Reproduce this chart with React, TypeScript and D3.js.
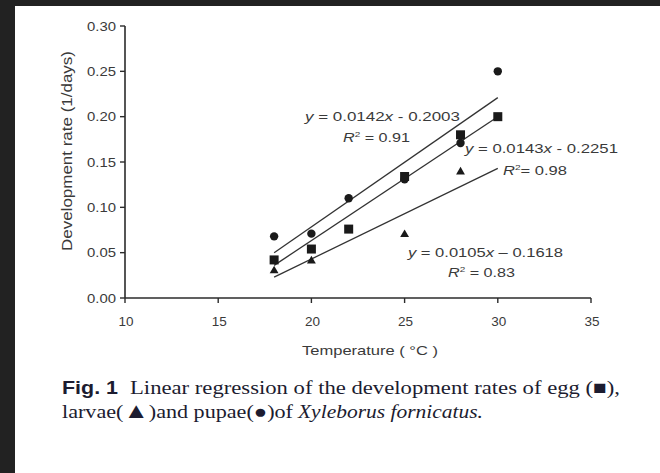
import React from "react";
import * as d3 from "d3";

// ---- data ----
const eggTemps = [18, 20, 22, 25, 28, 30];
const eggRates = [0.042, 0.054, 0.076, 0.134, 0.18, 0.2];
const larvaeTemps = [18, 20, 25, 28];
const larvaeRates = [0.03, 0.041, 0.07, 0.139];
const pupaeTemps = [18, 20, 22, 25, 28, 30];
const pupaeRates = [0.068, 0.071, 0.11, 0.131, 0.171, 0.25];

const fitTemps = [18, 30];
const pupaeFit = [0.05, 0.221];
const eggFit = [0.036, 0.2];
const larvaeFit = [0.023, 0.143];

const xTicks = [10, 15, 20, 25, 30, 35];
const yTicks = [0, 0.05, 0.1, 0.15, 0.2, 0.25, 0.3];

const eqSlopes = ["0.0142", "0.0143", "0.0105"];
const eqIntercepts = ["- 0.2003", "- 0.2251", "\u2013 0.1618"];
const eqR2 = ["0.91", "0.98", "0.83"];

const xTitle = "Temperature ( \u00B0C )";
const yTitle = "Development rate (1/days)";

// ---- layout ----
const W = 660;
const H = 473;
const eqPos = [
  { x: 305, y: 121, w: 155, rx: 343, ry: 142, rw: 67, req: " = " },
  { x: 465, y: 153, w: 153, rx: 503, ry: 175, rw: 64, req: "= " },
  { x: 408, y: 257, w: 155, rx: 448, ry: 277, rw: 67, req: " = " },
];

const x = d3.scaleLinear().domain([10, 35]).range([125, 591]);
const y = d3.scaleLinear().domain([0, 0.3]).range([298, 26]);

const ink = "#2b2b2b";
const txt = "#3a3a3a";
const sans = "Arial, 'Liberation Sans', Helvetica, sans-serif";
const serif = "'Times New Roman', 'Liberation Serif', serif";

export default function App() {
  const line = d3
    .line<[number, number]>()
    .x((d) => x(d[0]))
    .y((d) => y(d[1]));
  const fits = [pupaeFit, eggFit, larvaeFit];
  const tri = d3.symbol(d3.symbolTriangle, 34)();
  const fmt = d3.format(".2f");

  return (
    <svg
      width={W}
      height={H}
      style={{ position: "fixed", left: 0, top: 0 }}
      xmlns="http://www.w3.org/2000/svg"
    >
      <rect x={0} y={0} width={W} height={H} fill="#222222" />
      <rect x={15} y={6} width={W - 15} height={H - 6} fill="#ffffff" />

      {/* axes */}
      <line x1={x(10)} x2={x(10)} y1={y(0.3)} y2={y(0)} stroke={ink} strokeWidth={1.6} />
      <line x1={x(10)} x2={x(35)} y1={y(0)} y2={y(0)} stroke={ink} strokeWidth={1.6} />
      {yTicks.map((t) => (
        <g key={"y" + t}>
          <line x1={x(10) - 5} x2={x(10)} y1={y(t)} y2={y(t)} stroke={ink} strokeWidth={1.4} />
          <text
            x={116}
            y={y(t)}
            dy="0.36em"
            textAnchor="end"
            fontFamily={sans}
            fontSize={13}
            fill={txt}
            textLength={29}
            lengthAdjust="spacingAndGlyphs"
          >
            {fmt(t)}
          </text>
        </g>
      ))}
      {xTicks.map((t) => (
        <g key={"x" + t}>
          <line x1={x(t)} x2={x(t)} y1={y(0)} y2={y(0) + 5} stroke={ink} strokeWidth={1.4} />
          <text
            x={x(t) + 1}
            y={326}
            textAnchor="middle"
            fontFamily={sans}
            fontSize={13.5}
            fill={txt}
          >
            {t}
          </text>
        </g>
      ))}
      <text
        x={370}
        y={355}
        textAnchor="middle"
        fontFamily={sans}
        fontSize={13.5}
        fill={txt}
        textLength={136}
        lengthAdjust="spacingAndGlyphs"
      >
        {xTitle}
      </text>
      <text
        transform={`translate(72,151) rotate(-90)`}
        textAnchor="middle"
        fontFamily={sans}
        fontSize={14}
        fill={txt}
        textLength={200}
        lengthAdjust="spacingAndGlyphs"
      >
        {yTitle}
      </text>

      {/* regression lines */}
      {fits.map((f, i) => (
        <path
          key={"fit" + i}
          d={line(fitTemps.map((t, j) => [t, f[j]] as [number, number])) || ""}
          fill="none"
          stroke="#333"
          strokeWidth={1.3}
        />
      ))}

      {/* points */}
      {pupaeTemps.map((t, i) => (
        <circle key={"p" + i} cx={x(t)} cy={y(pupaeRates[i])} r={4.2} fill="#1a1a1a" />
      ))}
      {eggTemps.map((t, i) => (
        <rect
          key={"e" + i}
          x={x(t) - 4.5}
          y={y(eggRates[i]) - 4.5}
          width={9}
          height={9}
          fill="#1a1a1a"
        />
      ))}
      {larvaeTemps.map((t, i) => (
        <path
          key={"l" + i}
          d={tri || ""}
          transform={`translate(${x(t)},${y(larvaeRates[i])})`}
          fill="#1a1a1a"
        />
      ))}

      {/* equations */}
      {eqPos.map((p, i) => (
        <g key={"eq" + i} fontFamily={sans} fontSize={13} fill={txt}>
          <text x={p.x} y={p.y} textLength={p.w} lengthAdjust="spacingAndGlyphs">
            <tspan fontStyle="italic">y</tspan>
            {" = " + eqSlopes[i]}
            <tspan fontStyle="italic">x</tspan>
            {" " + eqIntercepts[i]}
          </text>
          <text x={p.rx} y={p.ry} textLength={p.rw} lengthAdjust="spacingAndGlyphs">
            <tspan fontStyle="italic">R</tspan>
            <tspan fontSize={8} dy={-5}>
              2
            </tspan>
            <tspan dy={5}>{p.req + eqR2[i]}</tspan>
          </text>
        </g>
      ))}

      {/* caption */}
      <g fill="#1c1c30">
        <text
          x={62}
          y={394}
          fontFamily={sans}
          fontWeight="bold"
          fontSize={18}
          textLength={56}
          lengthAdjust="spacingAndGlyphs"
        >
          Fig. 1
        </text>
        <text
          x={130}
          y={394}
          fontFamily={serif}
          fontSize={19}
          textLength={490}
          lengthAdjust="spacingAndGlyphs"
        >
          Linear regression of the development rates of egg (■),
        </text>
        <text
          x={62}
          y={418}
          fontFamily={serif}
          fontSize={19}
          textLength={231}
          lengthAdjust="spacingAndGlyphs"
        >
          larvae(<tspan fontSize={22}>▲</tspan>)and pupae(●)of
        </text>
        <text
          x={298}
          y={418}
          fontFamily={serif}
          fontStyle="italic"
          fontSize={19}
          textLength={185}
          lengthAdjust="spacingAndGlyphs"
        >
          Xyleborus fornicatus.
        </text>
      </g>
    </svg>
  );
}
